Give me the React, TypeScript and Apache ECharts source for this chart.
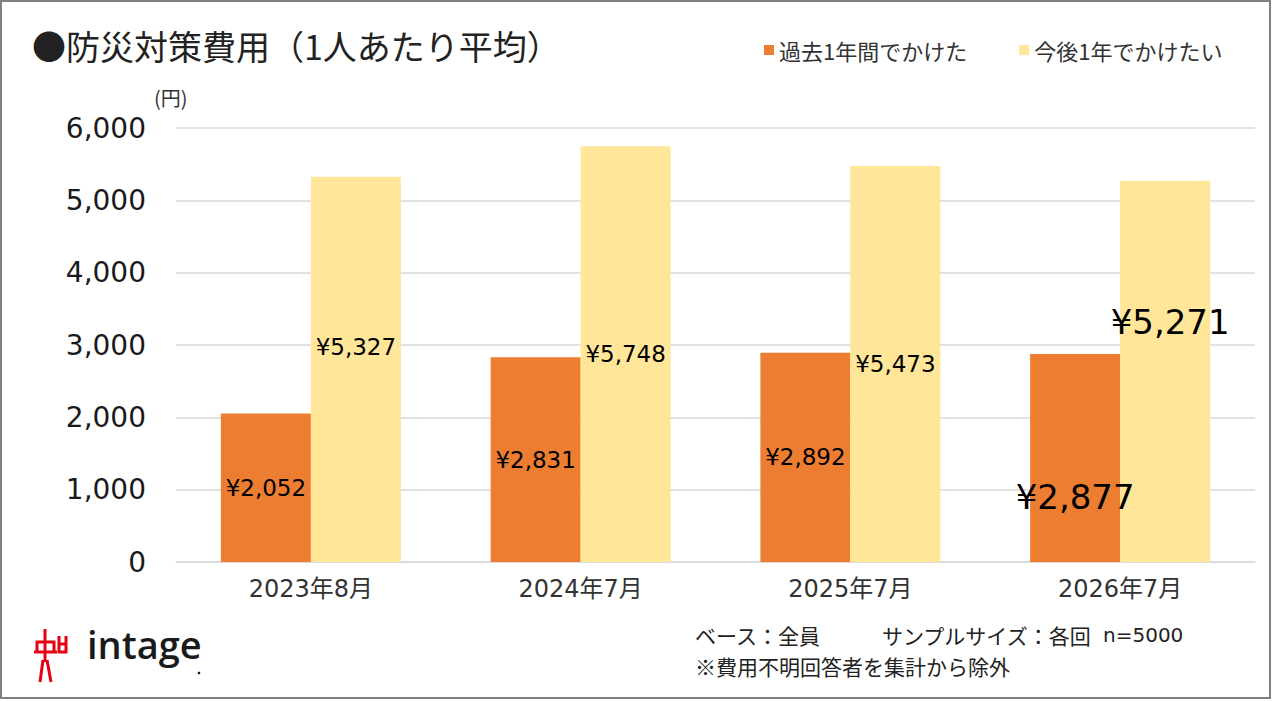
import React, { useEffect, useRef } from "react";
import * as echarts from "echarts";

const categories = ["2023年8月", "2024年7月", "2025年7月", "2026年7月"];
const seriesNames = ["過去1年間でかけた", "今後1年でかけたい"];
const pastYear = [2052, 2831, 2892, 2877];
const nextYear = [5327, 5748, 5473, 5271];
const yMin = 0;
const yMax = 6000;
const yInterval = 1000;

const titleText = "●防災対策費用（1人あたり平均）";
const unitText = "(円)";
const noteBase = "ベース：全員";
const noteSample = "サンプルサイズ：各回";
const noteN = "n=5000";
const noteExcl = "※費用不明回答者を集計から除外";
const logoText = "intage";

const NUM_FONT = "'DejaVu Sans', 'Noto Sans CJK JP', sans-serif";
const JP_FONT = "'Noto Sans CJK JP', 'Noto Sans', sans-serif";

// per-label visual tweaks (index aligned with categories)
const pastLabelTweaks = [
  { offset: [0, 0], fontSize: 23 },
  { offset: [0, 0], fontSize: 23 },
  { offset: [0, 0], fontSize: 23 },
  { offset: [0, 39], fontSize: 34 },
];
const nextLabelTweaks = [
  { offset: [0, -22], fontSize: 23 },
  { offset: [0, 0], fontSize: 23 },
  { offset: [0, 0], fontSize: 23 },
  { offset: [5, -49], fontSize: 34 },
];

const yen = (v: number) => "¥" + v.toLocaleString("en-US");

function buildData(values: number[], tweaks: { offset: number[]; fontSize: number }[]) {
  return values.map((v, i) => ({
    value: v,
    label: { offset: tweaks[i].offset, fontSize: tweaks[i].fontSize },
  }));
}

export default function App() {
  const ref = useRef<HTMLDivElement>(null);

  useEffect(() => {
    if (!ref.current) return;
    const chart = echarts.init(ref.current, undefined, { renderer: "svg" });
    const red = "#e60012";
    const logoStroke = { stroke: red, lineWidth: 3, fill: "none", lineCap: "butt", lineJoin: "miter" };
    const noteStyle = (text: string, font: string, size: number) => ({
      text,
      fontSize: size,
      fontFamily: font,
      fill: "#222",
      textVerticalAlign: "middle",
      lineHeight: size,
    });

    chart.setOption({
      animation: false,
      backgroundColor: "#ffffff",
      color: ["#ED7D31", "#FFE699"],
      grid: { left: 176, right: 22, top: 128, bottom: 139, containLabel: false },
      legend: {
        data: seriesNames,
        left: 759,
        top: 34,
        icon: "rect",
        itemWidth: 10,
        itemHeight: 10,
        itemGap: 52,
        textStyle: { fontSize: 22, color: "#333", fontFamily: JP_FONT },
      },
      xAxis: {
        type: "category",
        data: categories,
        axisLine: { show: true, lineStyle: { color: "#d9d9d9", width: 1.5 } },
        axisTick: { show: false },
        axisLabel: { fontSize: 24, color: "#333", margin: 15, fontFamily: NUM_FONT },
      },
      yAxis: {
        type: "value",
        min: yMin,
        max: yMax,
        interval: yInterval,
        axisLine: { show: false },
        axisTick: { show: false },
        splitLine: { lineStyle: { color: "#d9d9d9", width: 1.5 } },
        axisLabel: {
          fontSize: 28,
          color: "#1a1a1a",
          margin: 30,
          fontFamily: NUM_FONT,
          formatter: (v: number) => v.toLocaleString("en-US"),
        },
      },
      series: [
        {
          name: seriesNames[0],
          type: "bar",
          barWidth: 90,
          barGap: "0%",
          data: buildData(pastYear, pastLabelTweaks),
          label: {
            show: true,
            position: "inside",
            color: "#000",
            fontFamily: NUM_FONT,
            formatter: (p: any) => yen(p.value),
          },
        },
        {
          name: seriesNames[1],
          type: "bar",
          barWidth: 90,
          barGap: "0%",
          data: buildData(nextYear, nextLabelTweaks),
          label: {
            show: true,
            position: "inside",
            color: "#000",
            fontFamily: NUM_FONT,
            formatter: (p: any) => yen(p.value),
          },
        },
      ],
      graphic: [
        {
          type: "rect",
          shape: { x: 1, y: 1, width: 1269, height: 697 },
          style: { fill: "none", stroke: "#808080", lineWidth: 2 },
          silent: true,
        },
        {
          type: "text",
          x: 32,
          y: 45,
          style: {
            text: titleText,
            fontSize: 34,
            fontFamily: JP_FONT,
            fill: "#222",
            textVerticalAlign: "middle",
          },
        },
        {
          type: "text",
          x: 154,
          y: 97,
          style: {
            text: unitText,
            fontSize: 20,
            fontFamily: JP_FONT,
            fill: "#333",
            textVerticalAlign: "middle",
          },
        },
        { type: "text", x: 695, y: 635, style: noteStyle(noteBase, JP_FONT, 21) },
        { type: "text", x: 882, y: 635, style: noteStyle(noteSample, JP_FONT, 21) },
        { type: "text", x: 1103, y: 635, style: noteStyle(noteN, NUM_FONT, 20) },
        { type: "text", x: 695, y: 666, style: noteStyle(noteExcl, JP_FONT, 21) },
        // logo figure
        {
          type: "group",
          children: [
            { type: "line", shape: { x1: 45, y1: 629, x2: 45, y2: 662 }, style: logoStroke },
            { type: "polyline", shape: { points: [[37, 653], [37, 642], [54, 642], [54, 653]] }, style: logoStroke },
            { type: "line", shape: { x1: 34, y1: 652, x2: 57, y2: 652 }, style: logoStroke },
            { type: "polyline", shape: { points: [[43, 660], [40, 682]] }, style: logoStroke },
            { type: "polyline", shape: { points: [[47, 660], [51, 682]] }, style: logoStroke },
            { type: "polyline", shape: { points: [[59, 636], [59, 652], [66, 652], [66, 636]] }, style: logoStroke },
            { type: "line", shape: { x1: 59, y1: 644, x2: 66, y2: 644 }, style: logoStroke },
          ],
        },
        {
          type: "text",
          x: 87,
          y: 663,
          style: {
            text: logoText,
            fontSize: 38,
            fontWeight: 600,
            fontFamily: "'Open Sans', sans-serif",
            fill: "#1a1a1a",
            textVerticalAlign: "bottom",
          },
        },
        { type: "circle", shape: { cx: 199, cy: 673, r: 1.3 }, style: { fill: "#1a1a1a" } },
      ],
    });

    return () => chart.dispose();
  }, []);

  return (
    <div
      ref={ref}
      style={{ position: "fixed", left: 0, top: 0, width: 1277, height: 701, background: "#fff" }}
    />
  );
}
